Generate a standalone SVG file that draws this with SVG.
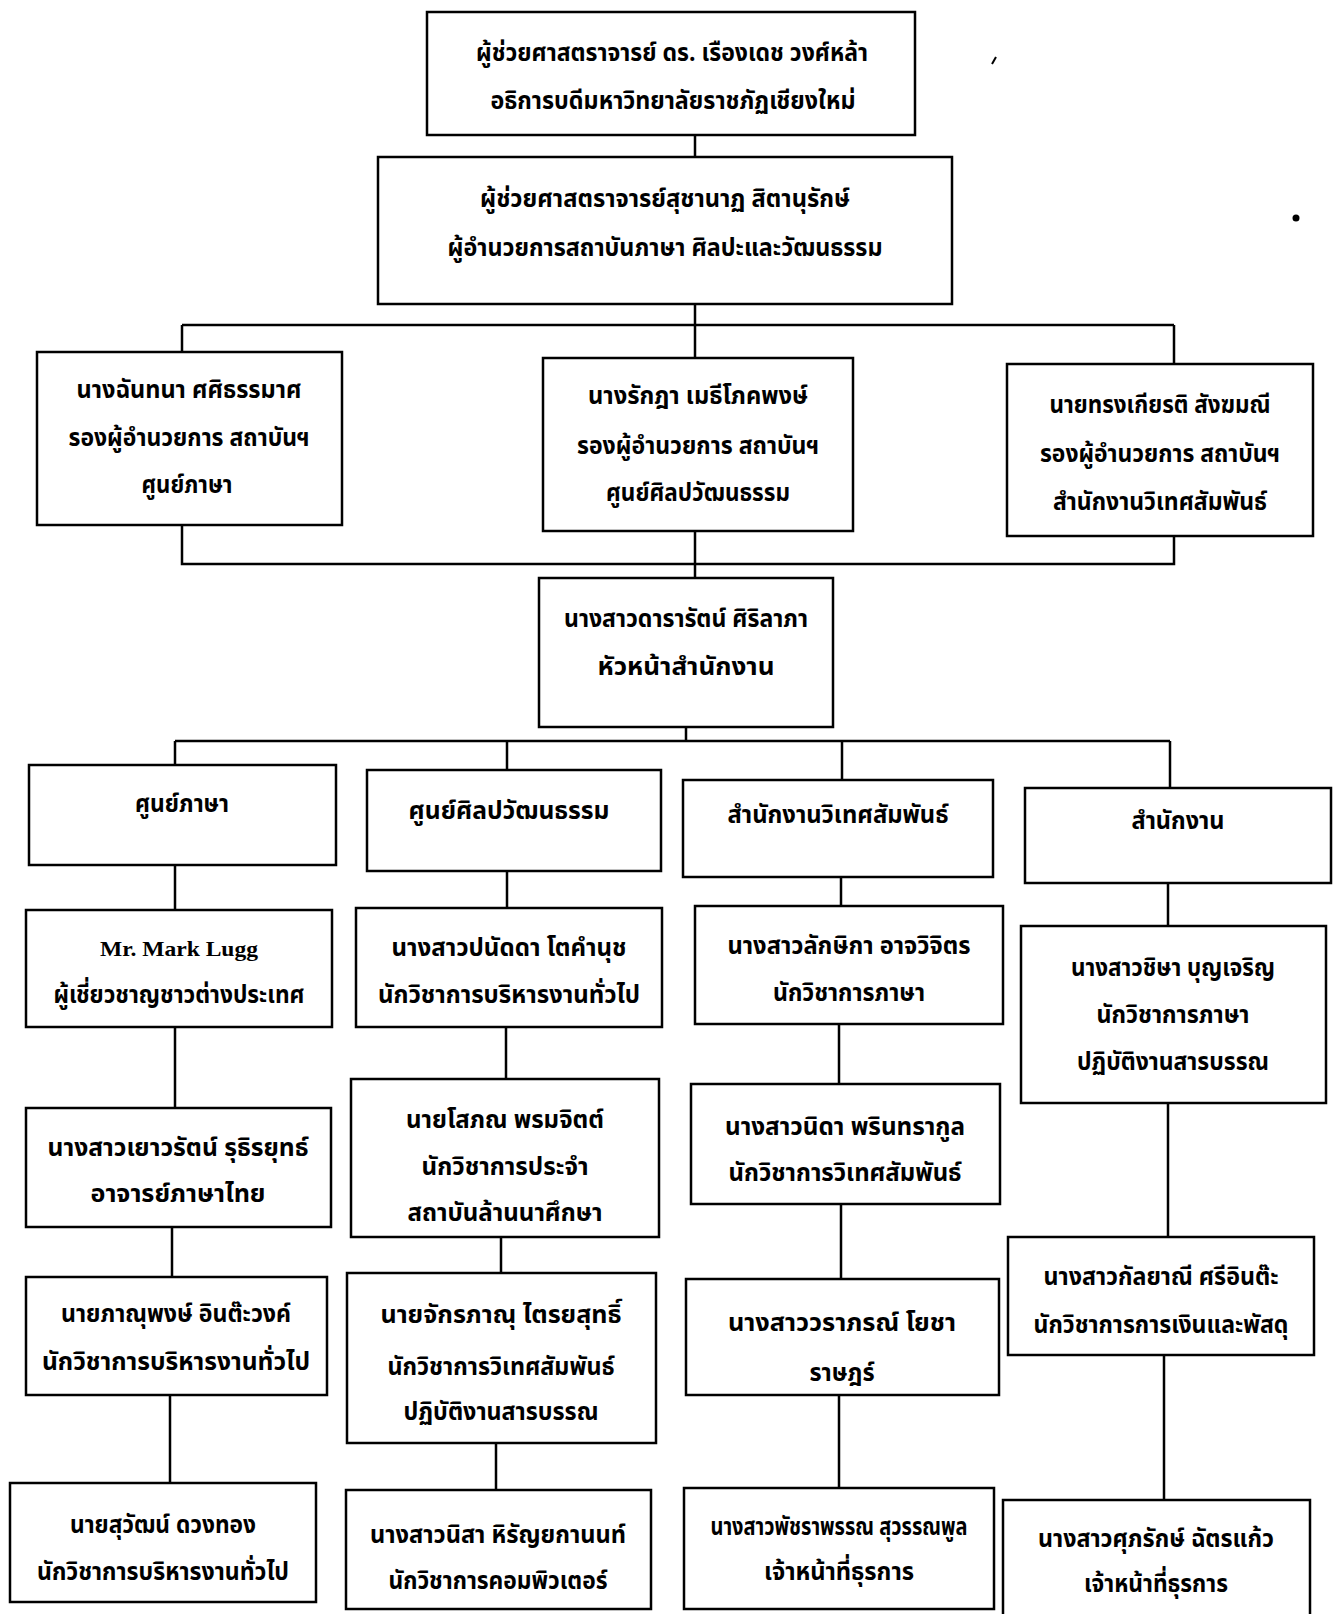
<svg xmlns="http://www.w3.org/2000/svg" width="1339" height="1614" viewBox="0 0 1339 1614">
<style>
.b{fill:#fff;stroke:#000;stroke-width:2.5}
.t{font-family:'Noto Sans Thai','Noto Sans Thai UI','Noto Sans','DejaVu Sans',sans-serif;font-weight:bold;font-size:25px;fill:#000;text-anchor:middle}
.s{font-family:'Liberation Serif','Times New Roman',serif;font-weight:bold;font-size:22px;fill:#000;text-anchor:middle}
.c{fill:none;stroke:#000;stroke-width:2.5}
</style>
<rect width="1339" height="1614" fill="#fff"/>
<g id="connectors">
<path class="c" d="M695 135V157M695 304V325M182 325H1174M182 325V352M695 325V358M1174 325V364"/>
<path class="c" d="M182 525V564H1174V536M695 531V578M686 727V741M175 741H1170M175 741V765M507 741V770M842 741V780M1170 741V788"/>
<path class="c" d="M175 865V910M507 871V908M841 877V906M1168 883V926"/>
<path class="c" d="M175 1027V1108M506 1027V1079M839 1024V1084M1168 1103V1237"/>
<path class="c" d="M172 1227V1277M501 1237V1273M841 1204V1279M1164 1355V1500"/>
<path class="c" d="M170 1395V1483M496 1443V1490M839 1395V1488"/>
</g>
<g id="n1"><rect class="b" x="427" y="12" width="488" height="123"/>
<text class="t" x="672" y="61" textLength="392" lengthAdjust="spacingAndGlyphs">ผู้ช่วยศาสตราจารย์ ดร. เรืองเดช วงศ์หล้า</text>
<text class="t" x="673" y="109" textLength="365" lengthAdjust="spacingAndGlyphs">อธิการบดีมหาวิทยาลัยราชภัฏเชียงใหม่</text></g>
<g id="n2"><rect class="b" x="378" y="157" width="574" height="147"/>
<text class="t" x="665" y="207" textLength="370" lengthAdjust="spacingAndGlyphs">ผู้ช่วยศาสตราจารย์สุชานาฏ สิตานุรักษ์</text>
<text class="t" x="665" y="256" textLength="435" lengthAdjust="spacingAndGlyphs">ผู้อำนวยการสถาบันภาษา ศิลปะและวัฒนธรรม</text></g>
<g id="n3a"><rect class="b" x="37" y="352" width="305" height="173"/>
<text class="t" x="189" y="398" textLength="225" lengthAdjust="spacingAndGlyphs">นางฉันทนา ศศิธรรมาศ</text>
<text class="t" x="189" y="446" textLength="241" lengthAdjust="spacingAndGlyphs">รองผู้อำนวยการ สถาบันฯ</text>
<text class="t" x="187" y="493" textLength="91" lengthAdjust="spacingAndGlyphs">ศูนย์ภาษา</text></g>
<g id="n3b"><rect class="b" x="543" y="358" width="310" height="173"/>
<text class="t" x="698" y="404" textLength="220" lengthAdjust="spacingAndGlyphs">นางรักฎา เมธีโภคพงษ์</text>
<text class="t" x="698" y="454" textLength="242" lengthAdjust="spacingAndGlyphs">รองผู้อำนวยการ สถาบันฯ</text>
<text class="t" x="698" y="501" textLength="184" lengthAdjust="spacingAndGlyphs">ศูนย์ศิลปวัฒนธรรม</text></g>
<g id="n3c"><rect class="b" x="1007" y="364" width="306" height="172"/>
<text class="t" x="1160" y="413" textLength="221" lengthAdjust="spacingAndGlyphs">นายทรงเกียรติ สังฆมณี</text>
<text class="t" x="1160" y="462" textLength="240" lengthAdjust="spacingAndGlyphs">รองผู้อำนวยการ สถาบันฯ</text>
<text class="t" x="1160" y="510" textLength="214" lengthAdjust="spacingAndGlyphs">สำนักงานวิเทศสัมพันธ์</text></g>
<g id="n4"><rect class="b" x="539" y="578" width="294" height="149"/>
<text class="t" x="686" y="627" textLength="244" lengthAdjust="spacingAndGlyphs">นางสาวดารารัตน์ ศิริลาภา</text>
<text class="t" x="686" y="675" textLength="177" lengthAdjust="spacingAndGlyphs">หัวหน้าสำนักงาน</text></g>
<g id="n5a"><rect class="b" x="29" y="765" width="307" height="100"/>
<text class="t" x="182" y="812" textLength="94" lengthAdjust="spacingAndGlyphs">ศูนย์ภาษา</text></g>
<g id="n5b"><rect class="b" x="367" y="770" width="294" height="101"/>
<text class="t" x="509" y="819" textLength="201" lengthAdjust="spacingAndGlyphs">ศูนย์ศิลปวัฒนธรรม</text></g>
<g id="n5c"><rect class="b" x="683" y="780" width="310" height="97"/>
<text class="t" x="838" y="823" textLength="221" lengthAdjust="spacingAndGlyphs">สำนักงานวิเทศสัมพันธ์</text></g>
<g id="n5d"><rect class="b" x="1025" y="788" width="306" height="95"/>
<text class="t" x="1178" y="829" textLength="93" lengthAdjust="spacingAndGlyphs">สำนักงาน</text></g>
<g id="n6a"><rect class="b" x="26" y="910" width="306" height="117"/>
<text class="s" x="179" y="956" textLength="158" lengthAdjust="spacingAndGlyphs">Mr. Mark Lugg</text>
<text class="t" x="179" y="1003" textLength="251" lengthAdjust="spacingAndGlyphs">ผู้เชี่ยวชาญชาวต่างประเทศ</text></g>
<g id="n6b"><rect class="b" x="356" y="908" width="306" height="119"/>
<text class="t" x="509" y="956" textLength="235" lengthAdjust="spacingAndGlyphs">นางสาวปนัดดา โตคำนุช</text>
<text class="t" x="509" y="1003" textLength="262" lengthAdjust="spacingAndGlyphs">นักวิชาการบริหารงานทั่วไป</text></g>
<g id="n6c"><rect class="b" x="695" y="906" width="308" height="118"/>
<text class="t" x="849" y="954" textLength="243" lengthAdjust="spacingAndGlyphs">นางสาวลักษิกา อาจวิจิตร</text>
<text class="t" x="849" y="1001" textLength="152" lengthAdjust="spacingAndGlyphs">นักวิชาการภาษา</text></g>
<g id="n6d"><rect class="b" x="1021" y="926" width="305" height="177"/>
<text class="t" x="1173" y="976" textLength="204" lengthAdjust="spacingAndGlyphs">นางสาวชิษา บุญเจริญ</text>
<text class="t" x="1173" y="1023" textLength="153" lengthAdjust="spacingAndGlyphs">นักวิชาการภาษา</text>
<text class="t" x="1173" y="1070" textLength="192" lengthAdjust="spacingAndGlyphs">ปฏิบัติงานสารบรรณ</text></g>
<g id="n7a"><rect class="b" x="26" y="1108" width="305" height="119"/>
<text class="t" x="178" y="1156" textLength="261" lengthAdjust="spacingAndGlyphs">นางสาวเยาวรัตน์ รุธิรยุทธ์</text>
<text class="t" x="178" y="1202" textLength="175" lengthAdjust="spacingAndGlyphs">อาจารย์ภาษาไทย</text></g>
<g id="n7b"><rect class="b" x="351" y="1079" width="308" height="158"/>
<text class="t" x="505" y="1128" textLength="198" lengthAdjust="spacingAndGlyphs">นายโสภณ พรมจิตต์</text>
<text class="t" x="505" y="1175" textLength="167" lengthAdjust="spacingAndGlyphs">นักวิชาการประจำ</text>
<text class="t" x="505" y="1221" textLength="195" lengthAdjust="spacingAndGlyphs">สถาบันล้านนาศึกษา</text></g>
<g id="n7c"><rect class="b" x="691" y="1084" width="309" height="120"/>
<text class="t" x="845" y="1135" textLength="240" lengthAdjust="spacingAndGlyphs">นางสาวนิดา พรินทรากูล</text>
<text class="t" x="845" y="1181" textLength="233" lengthAdjust="spacingAndGlyphs">นักวิชาการวิเทศสัมพันธ์</text></g>
<g id="n7d"><rect class="b" x="1008" y="1237" width="306" height="118"/>
<text class="t" x="1161" y="1285" textLength="235" lengthAdjust="spacingAndGlyphs">นางสาวกัลยาณี ศรีอินต๊ะ</text>
<text class="t" x="1161" y="1333" textLength="255" lengthAdjust="spacingAndGlyphs">นักวิชาการการเงินและพัสดุ</text></g>
<g id="n8a"><rect class="b" x="26" y="1277" width="301" height="118"/>
<text class="t" x="176" y="1322" textLength="230" lengthAdjust="spacingAndGlyphs">นายภาณุพงษ์ อินต๊ะวงค์</text>
<text class="t" x="176" y="1370" textLength="268" lengthAdjust="spacingAndGlyphs">นักวิชาการบริหารงานทั่วไป</text></g>
<g id="n8b"><rect class="b" x="347" y="1273" width="309" height="170"/>
<text class="t" x="501" y="1323" textLength="241" lengthAdjust="spacingAndGlyphs">นายจักรภาณุ ไตรยสุทธิ์</text>
<text class="t" x="501" y="1375" textLength="227" lengthAdjust="spacingAndGlyphs">นักวิชาการวิเทศสัมพันธ์</text>
<text class="t" x="501" y="1420" textLength="195" lengthAdjust="spacingAndGlyphs">ปฏิบัติงานสารบรรณ</text></g>
<g id="n8c"><rect class="b" x="686" y="1279" width="313" height="116"/>
<text class="t" x="842" y="1331" textLength="228" lengthAdjust="spacingAndGlyphs">นางสาววราภรณ์ โยชา</text>
<text class="t" x="842" y="1381" textLength="65" lengthAdjust="spacingAndGlyphs">ราษฎร์</text></g>
<g id="n9a"><rect class="b" x="10" y="1483" width="306" height="119"/>
<text class="t" x="163" y="1533" textLength="186" lengthAdjust="spacingAndGlyphs">นายสุวัฒน์ ดวงทอง</text>
<text class="t" x="163" y="1580" textLength="252" lengthAdjust="spacingAndGlyphs">นักวิชาการบริหารงานทั่วไป</text></g>
<g id="n9b"><rect class="b" x="346" y="1490" width="305" height="119"/>
<text class="t" x="498" y="1543" textLength="256" lengthAdjust="spacingAndGlyphs">นางสาวนิสา หิรัญยกานนท์</text>
<text class="t" x="498" y="1589" textLength="219" lengthAdjust="spacingAndGlyphs">นักวิชาการคอมพิวเตอร์</text></g>
<g id="n9c"><rect class="b" x="684" y="1488" width="310" height="121"/>
<text class="t" x="839" y="1535" textLength="257" lengthAdjust="spacingAndGlyphs">นางสาวพัชราพรรณ สุวรรณพูล</text>
<text class="t" x="839" y="1580" textLength="150" lengthAdjust="spacingAndGlyphs">เจ้าหน้าที่ธุรการ</text></g>
<g id="n9d"><rect class="b" x="1003" y="1500" width="307" height="118"/>
<text class="t" x="1156" y="1547" textLength="236" lengthAdjust="spacingAndGlyphs">นางสาวศุภรักษ์ ฉัตรแก้ว</text>
<text class="t" x="1156" y="1592" textLength="144" lengthAdjust="spacingAndGlyphs">เจ้าหน้าที่ธุรการ</text></g>
<circle cx="1296" cy="218" r="3.5" fill="#000"/>
<path d="M996 57L992 64" stroke="#000" stroke-width="2"/>
</svg>
